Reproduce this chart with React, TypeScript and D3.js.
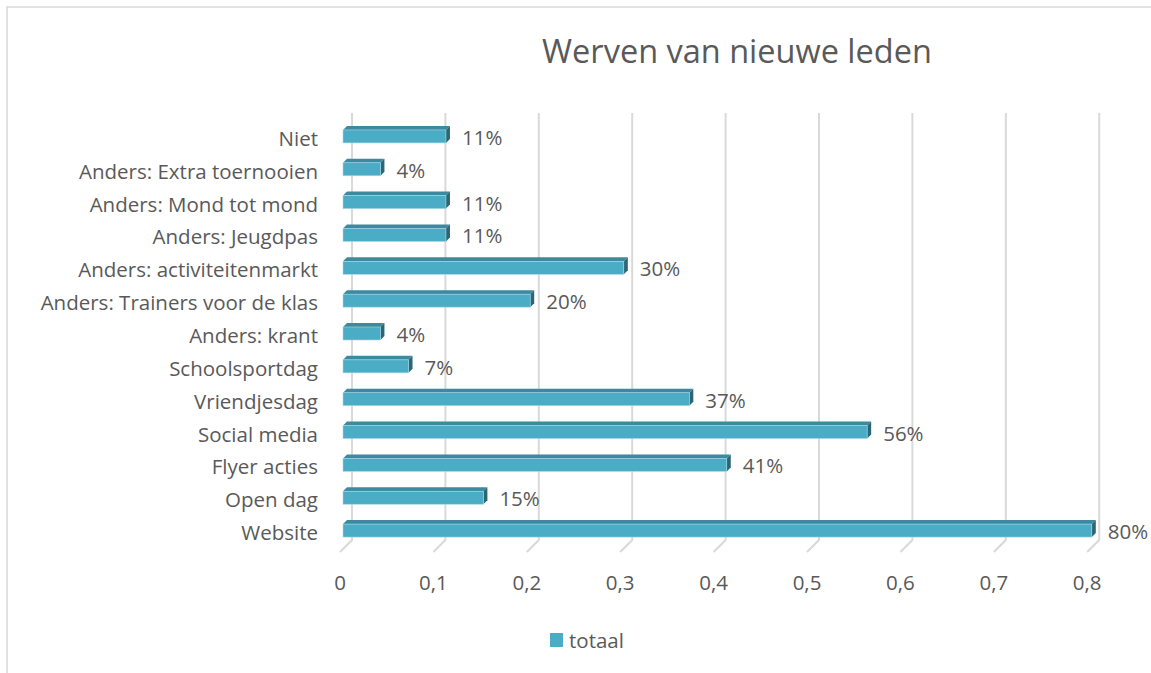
import React from "react";
import * as d3 from "d3";

const categories = [
  "Niet",
  "Anders: Extra toernooien",
  "Anders: Mond tot mond",
  "Anders: Jeugdpas ",
  "Anders: activiteitenmarkt",
  "Anders: Trainers voor de klas",
  "Anders: krant",
  "Schoolsportdag",
  "Vriendjesdag",
  "Social media",
  "Flyer acties",
  "Open dag",
  "Website",
];
const values = [0.11, 0.04, 0.11, 0.11, 0.3, 0.2, 0.04, 0.07, 0.37, 0.56, 0.41, 0.15, 0.8];
const ticks = [0, 0.1, 0.2, 0.3, 0.4, 0.5, 0.6, 0.7, 0.8];
const seriesName = "totaal";
const title = "Werven van nieuwe leden";

const W = 1151;
const H = 673;
const FONT = "'Open Sans', Lato, sans-serif";
const TXT = "#595959";
const FS = 20.5;

export default function App() {
  const xFront = d3.scaleLinear().domain([0, 0.8]).range([340, 340 + 0.8 * 934]);
  const xBack = d3.scaleLinear().domain([0, 0.8]).range([352, 352 + 0.8 * 934]);
  const xBar = d3.scaleLinear().domain([0, 0.8]).range([343, 343 + 0.8 * 936]);
  const y = d3.scaleBand().domain(categories).range([120, 547]);
  const backTop = 113;
  const backBottom = 540;
  const frontBottom = 552;
  const barH = 13;
  const dx = 4;
  const dy = 4;
  const fmt = d3.format(".0%");

  return (
    <svg width={W} height={H} style={{ position: "absolute", left: 0, top: 0, background: "#fff" }}>
      <rect x={7} y={7} width={W + 20} height={H + 20} fill="#fff" stroke="#d9d9d9" strokeWidth={1.5} />
      <text x={737} y={63} textAnchor="middle" fontFamily={FONT} fontSize={32.5} fill={TXT}>
        {title}
      </text>
      {ticks.map((t) => (
        <g key={t}>
          <polyline
            points={`${xBack(t)},${backTop} ${xBack(t)},${backBottom} ${xFront(t)},${frontBottom}`}
            fill="none"
            stroke="#d9d9d9"
            strokeWidth={2}
          />
          <text x={xFront(t)} y={590} textAnchor="middle" fontFamily={FONT} fontSize={FS} fill={TXT}>
            {String(t).replace(".", ",")}
          </text>
        </g>
      ))}
      {categories.map((c, i) => {
        const v = values[i];
        const cy = (y(c) as number) + y.bandwidth() / 2;
        const x0 = xBar(0);
        const x1 = xBar(v);
        const top = cy - barH / 2;
        const bot = cy + barH / 2;
        return (
          <g key={c}>
            <text x={318} y={cy + 9.5} textAnchor="end" fontFamily={FONT} fontSize={FS} fill={TXT}>
              {c}
            </text>
            <polygon
              points={`${x0},${top} ${x0 + dx},${top - dy} ${x1 + dx},${top - dy} ${x1},${top}`}
              fill="#3b8aa0"
            />
            <polygon
              points={`${x1},${top} ${x1 + dx},${top - dy} ${x1 + dx},${bot - dy} ${x1},${bot}`}
              fill="#2b6676"
            />
            <rect x={x0} y={top} width={x1 - x0} height={barH} fill="#4bacc6" stroke="#a9d8e6" strokeWidth={0.6} />
            <text x={x1 + 16} y={cy + 8.5} fontFamily={FONT} fontSize={FS} fill={TXT}>
              {fmt(v)}
            </text>
          </g>
        );
      })}
      <rect x={550} y={633} width={13} height={14} fill="#4bacc6" />
      <text x={569} y={648} fontFamily={FONT} fontSize={FS} fill={TXT}>
        {seriesName}
      </text>
    </svg>
  );
}
